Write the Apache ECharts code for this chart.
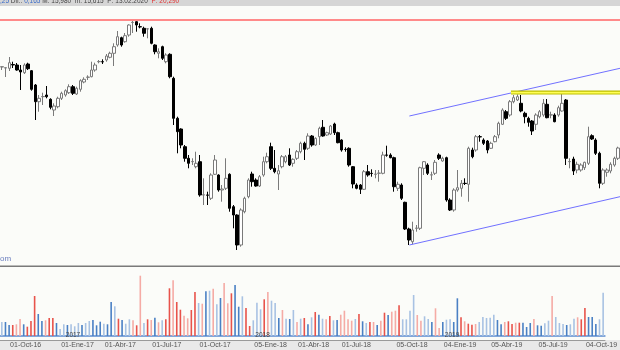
<!DOCTYPE html>
<html><head><meta charset="utf-8">
<script src="https://cdn.jsdelivr.net/npm/echarts@6/dist/echarts.min.js"></script>
<style>html,body{margin:0;padding:0;background:#fbfcf9}#c{width:620px;height:350px}</style>
</head><body><div id="c"></div>
<script>
// Weekly candles (first week), values in chart units
const firstWeek = '2016-09-16';
const open = [
233,232,231.7,235.5,235,230,227.3,236,229.3,215,
198.3,203.3,205,200.7,190,193.3,201.7,205,207.3,213.3,
206,210.7,218,222.7,223.3,230,238.3,238.3,240,242.7,
246.7,255,262.3,258.3,265,277.5,278.3,273.3,271.7,271,
271.7,255,246.7,253.3,238.3,245.7,221.7,181.7,171,153.3,
141.7,138.3,133.3,138.3,105,105,101.7,125.7,125,110,
111.7,125.7,93.3,85,55,88.3,103.3,126,120,114,
125,138.3,153.3,131.7,126,133.3,138.3,145,136.7,141.7,
148.3,156.7,151.7,164,155,163.3,172.7,165,166,176,
167.3,160,150.7,151.7,133.3,115,115,110.7,128.3,126.7,
125.7,126.7,126.7,145,145,142.3,111.7,115,97.7,71,
58.3,71.7,71.7,131.7,135,125,126.7,145,139,142.3,
100,90,110,111.7,116.7,115.7,150,150,163.3,160,
159,151.7,158.3,165,175.7,188.3,185,198.3,200,196.7,
186.7,181.7,179,175.7,183.3,185,195.7,185,185,185,
189,200,138.3,141,130,130,132.3,136.7,164.3,160,
146.7,116.7,127.7,129,135,141.7];
const close = [
233.3,232.3,237.3,235,230,228,235,231.3,210.7,198.3,
201.7,203.5,203.3,192.7,194,201.7,206.7,209.3,213.3,206.7,
211.7,219.3,220.7,222.9,230,235,238.5,238.1,244,246.7,
253.3,263.3,255,264.3,275,277.7,275,273.1,266.7,271.2,
256.7,248.3,248.3,241.7,245,223.3,181.7,168.3,155,141.7,
136.7,138.5,136.7,105,105.2,104.8,125,140,110,111,
121.7,91.7,85,55,90,101.7,120,118.3,114,123.3,
138.3,143.3,131.7,128.3,129.3,143.3,143.3,135,140.7,148.3,
156.7,150.7,164,155,161.7,171.7,164,167.3,174,167.3,
157.3,150,150.5,135,116,111.7,110.7,128.3,125,126.5,
125.9,126.9,145,144.8,142.3,113.3,115.7,101.7,71,60,
70,71.9,132.3,138.3,126.7,125.2,137.7,141.7,141.7,100,
90,110,112.3,116.7,116.5,151.7,143.3,163.3,163.1,156.7,
150,156.7,163.3,176.7,190,181.7,198.3,202.3,203.3,189,
183.3,177.7,169,185,188.3,196.7,182.3,185.2,178.3,192.3,
196.7,141.7,138.5,129,135.7,135,137.7,163.3,161,146.7,
116.7,130,130,135.7,141.7,152];
const low = [
230,223,229,232,229.3,210,226,230,209.3,180,
188.3,195,201.7,190.7,184,191.7,200,203.3,206,205,
205,208.3,216.7,220,222.7,228.3,236.7,236,238.3,241.7,
234,253.3,253.3,257.3,263.3,267,268.3,271.7,263.3,261.7,
255.7,245.7,241.7,240,236.7,221.7,175,146.7,151.7,138.3,
131.7,135,131.7,103.3,95,95,100,125,108.3,98.3,
110,88.3,71.7,50,53.3,86.7,101.7,113.3,113.3,113,
123.3,136.7,130,126.7,110,131.7,136.7,134,133.3,140,
146.7,140,150,153.3,154,155,163.3,164,165,165,
156.7,148.3,148.3,133.3,111.7,110.7,106,110,123.3,123.3,
121.7,118.3,125.7,143.3,141.7,108.3,109,100,70,55,
55.7,68.3,70,125,125,120,125,140,138.3,98.3,
89,88.3,108.3,103.3,115,98.3,141.7,148.3,158.3,155,
146.7,151,157.7,161.7,175,180,183.3,196.7,199,187.7,
176.7,173.3,165,170,181.7,183.3,181.7,181.7,177.7,183.3,
188.3,135,131.7,125,126.7,128.3,130,135,160,145,
111.7,115,123.3,126.7,133.3,140];
const high = [
233.5,232.5,243,238.3,237,235,236.7,237.3,230,216,
205,207.3,214,201.7,196.7,203.3,208.3,210.7,215.7,215,
213.3,220.7,222.7,224.7,238.3,237.3,240,240.7,246,248.3,
256.7,269,263.3,267,275.7,279.7,280,276.7,273.3,271.7,
273.3,255.7,251.7,254.3,246.7,246.7,223.3,183.3,171.7,155,
145,141.7,148.3,145,121.7,108.3,126.7,145,125.7,115,
141.7,126.7,95,85.7,91.7,103.3,121.7,128.3,121.7,125,
143.3,147.3,157.3,150,135,145,145,151.7,141.7,150,
158.3,158.3,166.7,165,162.7,173.3,180,168.3,175,177.3,
168.3,160.7,152.7,152.7,134,116.7,116,130,135,130.7,
130,130,148.3,154.3,146.7,143.3,118.3,116.7,98.3,72.3,
78.3,75,133.3,139,136.7,128.3,140,146.7,143.3,143.3,
101.7,111.7,130,120,121.7,153.3,152.3,165,165,161.7,
160,158.3,165,178.3,191.7,190,200,205,205.7,205,
188.3,183.3,180,186.7,190,201,201,188.3,186.7,194.3,
206.7,201,141.7,143.3,138.3,136.7,138.3,173.3,165.7,161.7,
148.3,131.7,131.7,137.7,143.3,153.3];
const volume = [
14,14,11,11,11.7,17,11.7,9.3,15,40,
22,15,15.7,18,18,13,7,11.7,11,11.7,
9.7,13,11,13,15,16,10.7,14.3,12.3,11.7,
34,29.7,17.3,16,12.3,16.7,15.7,10.7,60.3,13,
16.7,16,18.3,13.7,15.7,16.7,47.7,55.7,34,26.3,
20.3,17.7,26,44,33,32.3,44.7,45.3,47.3,31.7,
38,53,32.7,42.7,51,29.3,39.7,28,10,15.7,
33.3,26.7,36.7,44,35.3,33,18,26,17.3,17,
26,14,17.3,18,11.7,18.7,24,21.3,17.3,16.7,
20,15.7,16,21.3,25.3,16.7,15.3,17,22,14.7,
13,14,14,11,15.3,23.3,21,24.3,25.3,30.7,
16.7,16.7,25.3,41,21,15.3,19.7,17,14,27.7,
8,14,16.3,16.7,14,37.7,18.7,14.7,12.3,11.3,
12,14,19,18,18.3,21.3,16,11.7,14,14.7,
12,13.3,13.3,13.3,9,13,17,10.7,10.3,12.7,
15.3,40,19,13,12,11,11.7,17.3,18.7,16.7,
28,19,19,12,16.7,43.3];
// volume tone per week: r = red, p = pale red, b = blue, l = pale blue
const volTone = ('lbbrppbrrr'+'bbprrbllbl'+'llbllbbblb'+'blrbllprpl'+'rpbplrrprr'+
  'pprrlpblpl'+'bpprbblrrl'+'llrpllbplb'+'lpl'+'rblrblp'+'rlbpppplrb'+'lrpbprbppr'+
  'llllppllbp'+'pbllbbrprr'+'plllllbbpr'+'rprbbbpbbl'+'lplllbllpr'+'rbbbll').split('');
const quarterTicks = [2,16,28,41,54,69,81,93,108,121,134,147,160];
const quarterLabels = ['01-Oct-16','01-Ene-17','01-Abr-17','01-Jul-17','01-Oct-17','05-Ene-18','01-Abr-18','01-Jul-18','05-Oct-18','04-Ene-19','05-Abr-19','05-Jul-19','04-Oct-19'];
const yearTicks = [17,69,121];
const yearLabels = ['2017','2018','2019'];
const resistanceLevel = 280;
const channelUpper = [[109.1,184],[165.5,231.7]];
const channelLower = [[109.1,55],[165.5,103.3]];
const yellowZone = [[136.3,207.4],[165.5,207.4]];
const headerParts = [',25 ','Dif.: ','0,165 ','M: 15,980  m: 15,615  P: 13.02.2020  ','P: 20,290'];

const N = open.length;
const weeks = [];
const d0 = new Date(firstWeek + 'T00:00:00Z');
for (let i = 0; i < N; i++) weeks.push(new Date(d0.getTime() + i * 7 * 86400000).toISOString().slice(0, 10));
const toneColor = {r:'#e8534b', p:'#f5aba5', b:'#4a80c4', l:'#a8c2e3'};
const candle = open.map((o, i) => [o, close[i], low[i], high[i]]);
const volData = volume.map((v, i) => ({value: v, itemStyle: {color: toneColor[volTone[i]]}}));
const qMap = {}; quarterTicks.forEach((t, k) => qMap[t] = quarterLabels[k]);
const yMap = {}; yearTicks.forEach((t, k) => yMap[t] = yearLabels[k]);

const headerStyles = ['bl','dk','bl','dk','rd'];

const chart = echarts.init(document.getElementById('c'), null, {renderer:'canvas'});
chart.setOption({
  animation: false,
  backgroundColor: '#fbfcf9',
  grid: [
    {left: 0, right: 0, top: 6, height: 260},
    {left: 0, right: 0, top: 266, height: 70}
  ],
  xAxis: [
    {type: 'category', gridIndex: 0, position: 'bottom', data: weeks, show: false},
    {type: 'category', gridIndex: 1, position: 'bottom', data: weeks,
      axisLine: {onZero: false, lineStyle: {color: '#5b8bd0', width: 1.5}},
      axisTick: {show: false}, axisLabel: {show: false}},
    {type: 'category', gridIndex: 1, position: 'bottom', data: weeks, offset: 4, z: 10,
      axisLine: {onZero: false, lineStyle: {color: '#9a9a9a', width: 1}},
      axisTick: {alignWithLabel: true, interval: (i) => i in qMap, length: 3, lineStyle: {color: '#777'}},
      axisLabel: {interval: (i) => i in qMap, formatter: (v, i) => qMap[i], align: 'left',
        fontSize: 7, color: '#555', margin: 2, padding: [0, 0, 0, 1], fontFamily: 'Liberation Sans'}},
    {type: 'category', gridIndex: 1, position: 'bottom', data: weeks, offset: 4, z: 10,
      axisLine: {show: false, onZero: false},
      axisTick: {inside: true, alignWithLabel: true, interval: (i) => i in yMap, length: 6, lineStyle: {color: '#666'}},
      axisLabel: {inside: true, interval: (i) => i in yMap, formatter: (v, i) => yMap[i], align: 'left',
        fontSize: 6.5, color: '#444', margin: 1, padding: [0, 0, 0, 2], fontFamily: 'Liberation Sans'}},
    {type: 'value', gridIndex: 0, position: 'bottom', min: -0.5, max: N - 0.5, show: false}
  ],
  yAxis: [
    {type: 'value', gridIndex: 0, min: 34, max: 294, show: false},
    {type: 'value', gridIndex: 1, min: 0, max: 70, show: false}
  ],
  series: [
    {type: 'candlestick', xAxisIndex: 0, yAxisIndex: 0, data: candle, barWidth: 3,
      itemStyle: {color: '#ffffff', color0: '#000000', borderColor: '#7a7a7a', borderColor0: '#000000', borderWidth: 1},
      markLine: {silent: true, symbol: ['none', 'none'], label: {show: false},
        lineStyle: {color: '#ff8a8a', width: 2, type: 'solid'}, data: [{yAxis: resistanceLevel}]}},
    {type: 'bar', xAxisIndex: 1, yAxisIndex: 1, data: volData, barWidth: 1.6},
    {type: 'line', xAxisIndex: 4, yAxisIndex: 0, data: channelUpper, symbol: 'none',
      lineStyle: {color: '#7070ff', width: 1}},
    {type: 'line', xAxisIndex: 4, yAxisIndex: 0, data: channelLower, symbol: 'none',
      lineStyle: {color: '#7070ff', width: 1}},
    {type: 'line', xAxisIndex: 4, yAxisIndex: 0, data: yellowZone, symbol: 'none',
      lineStyle: {color: '#bdbd00', width: 4}},
    {type: 'line', xAxisIndex: 4, yAxisIndex: 0, data: yellowZone, symbol: 'none',
      lineStyle: {color: '#ffff55', width: 1.6}}
  ],
  graphic: [
    {type: 'rect', z: -1, shape: {x: 0, y: 340, width: 620, height: 10}, style: {fill: '#e9e9e9'}},
    {type: 'rect', z: 50, shape: {x: 0, y: 265.5, width: 620, height: 1.5}, style: {fill: '#7a7a7a'}},
    {type: 'rect', z: 100, shape: {x: 0, y: 0, width: 620, height: 6}, style: {fill: '#d6d6d6'}},
    {type: 'text', z: 101, left: 0, top: 255, style: {text: 'om', fill: '#6b7fbf', fontSize: 8, fontFamily: 'Liberation Sans'}},
    {type: 'text', z: 101, x: 0, y: -2.5, style: {
      text: headerParts.map((t, k) => '{' + headerStyles[k] + '|' + t + '}').join(''),
      fontSize: 6.5, fontFamily: 'Liberation Sans',
      rich: {
        bl: {fill: '#3a6cc8', fontSize: 6.5, fontFamily: 'Liberation Sans'},
        dk: {fill: '#444', fontSize: 6.5, fontFamily: 'Liberation Sans'},
        rd: {fill: '#e03030', fontSize: 6.5, fontFamily: 'Liberation Sans'}
      }}}
  ]
});
</script>
</body></html>
